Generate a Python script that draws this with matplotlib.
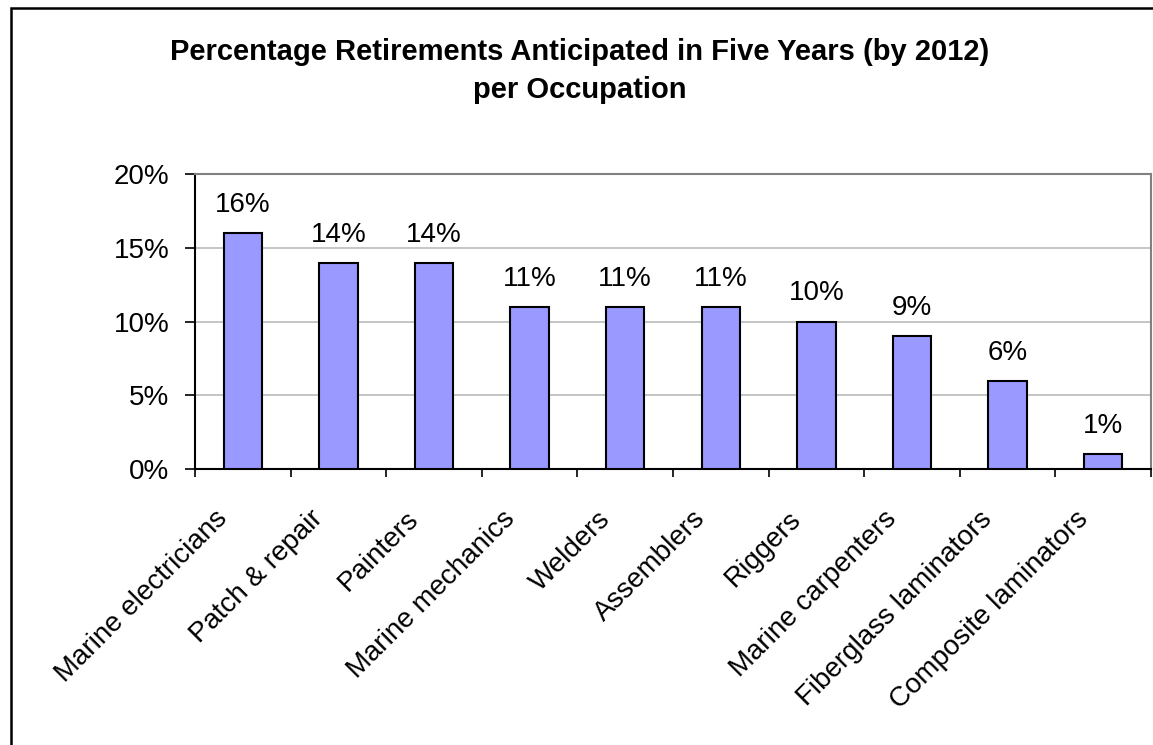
import matplotlib
matplotlib.use("Agg")
import matplotlib.pyplot as plt
from matplotlib.patches import Rectangle
from matplotlib.ticker import FuncFormatter

plt.rcParams['font.family'] = ['Liberation Sans', 'DejaVu Sans']

# retirement share per occupation, in percent
occupations = ['Marine electricians', 'Patch & repair', 'Painters', 'Marine mechanics',
               'Welders', 'Assemblers', 'Riggers', 'Marine carpenters',
               'Fiberglass laminators', 'Composite laminators']
retire_pct = [16, 14, 14, 11, 11, 11, 10, 9, 6, 1]
y_ticks = [0, 5, 10, 15, 20]

title = 'Percentage Retirements Anticipated in Five Years (by 2012)\nper Occupation'

W, H = 1153, 745
fig = plt.figure(figsize=(W / 100, H / 100), dpi=100)
ax = fig.add_axes([195 / W, 1 - 469 / H, (1151 - 195) / W, (469 - 174) / H])

x = list(range(len(occupations)))
ax.bar(x, retire_pct, width=0.4, color='#9999FF', edgecolor='black', linewidth=1.5, zorder=3)

ax.set_xlim(-0.5, len(occupations) - 0.5)
ax.set_ylim(0, 20)
ax.set_yticks(y_ticks)
ax.yaxis.set_major_formatter(FuncFormatter(lambda v, _: f'{v:.0f}%'))
ax.tick_params(axis='y', direction='out', length=7.5, width=1.2, pad=11, labelsize=20)
ax.grid(axis='y', color='#C0C0C0', linewidth=1.3, zorder=0)

# ticks sit between categories, labels are drawn separately
ax.set_xticks([i - 0.5 for i in range(len(occupations) + 1)])
ax.set_xticklabels([])
ax.tick_params(axis='x', direction='out', length=6, width=1.2)

for side in ('left', 'bottom'):
    ax.spines[side].set_color('black')
    ax.spines[side].set_linewidth(1.5)
for side in ('top', 'right'):
    ax.spines[side].set_color('#808080')
    ax.spines[side].set_linewidth(1.5)

for i, (name, v) in enumerate(zip(occupations, retire_pct)):
    ax.annotate(f'{v}%', (i, v), xytext=(0, 21), textcoords='offset pixels',
                ha='center', va='baseline', fontsize=20)
    ax.annotate(name, (i, 0), xycoords=('data', 'axes fraction'),
                xytext=(-19, -46), textcoords='offset pixels',
                ha='right', va='center', rotation=45, rotation_mode='anchor',
                fontsize=20)

fig.text(580 / W, 1 - 38 / H, title, ha='center', va='top', fontsize=21,
         fontweight='bold', linespacing=1.45)

# chart frame (runs off the right and bottom edges)
fig.add_artist(Rectangle((11 / W, -0.1), 1.2, 1 - 8 / H + 0.1, transform=fig.transFigure,
                         fill=False, edgecolor='black', linewidth=1.8))

fig.savefig('out.png', dpi=100)
